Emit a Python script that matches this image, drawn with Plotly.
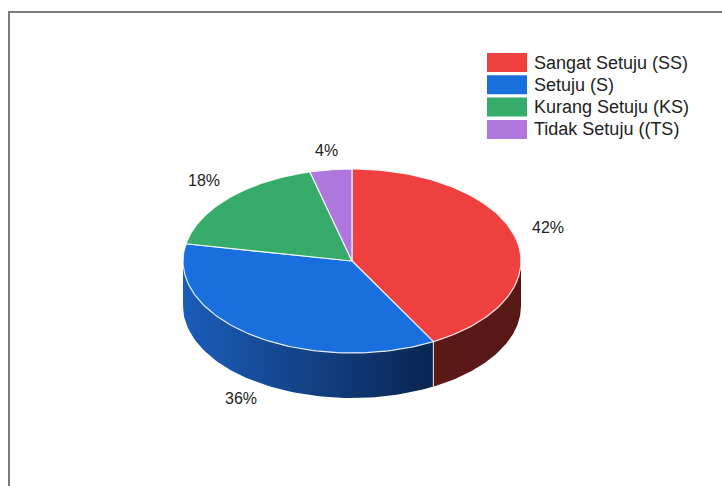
import numpy as np
import plotly.graph_objects as go

# Survey responses (percent)
categories = ["Sangat Setuju (SS)", "Setuju (S)", "Kurang Setuju (KS)", "Tidak Setuju ((TS)"]
values = [42, 36, 18, 4]
top_colors = ["#EF4040", "#1A6FDF", "#37AB69", "#AE77DD"]
side_colors = [("#5C1A17", "#571815"), ("#1B5DBA", "#0A2550"), ("#1F6B40", "#14482A"), ("#6E4A8E", "#4E3366")]

W, H = 722, 486
cx, cy = 352.0, 261.0      # centre of the top face
rx, ry = 169.0, 92.0       # ellipse radii of the top face
depth = 45.0               # thickness of the disc


def pt(theta_deg, dy=0.0):
    """Point on the top ellipse; angle measured clockwise from 12 o'clock."""
    t = np.radians(theta_deg)
    return cx + rx * np.sin(t), cy - ry * np.cos(t) + dy


fig = go.Figure()

total = float(sum(values))
bounds = np.concatenate([[0.0], np.cumsum(values) / total * 360.0])

# Front walls of the disc (only the part facing the viewer, 90..270 deg)
for i in range(len(values)):
    a, b = max(bounds[i], 90.0), min(bounds[i + 1], 270.0)
    if b <= a:
        continue
    th = np.linspace(a, b, 80)
    xt, yt = pt(th)
    xb, yb = pt(th[::-1], depth)
    xs = np.concatenate([xt, xb, xt[:1]])
    ys = np.concatenate([yt, yb, yt[:1]])
    fig.add_trace(go.Scatter(
        x=xs, y=ys, mode="lines", fill="toself",
        line=dict(width=0), hoverinfo="skip", showlegend=False,
        fillgradient=dict(type="horizontal",
                          colorscale=[[0, side_colors[i][0]], [1, side_colors[i][1]]]),
    ))

# Light seams where slices meet on the wall
for i in range(1, len(values)):
    ang = bounds[i]
    if 90.0 < ang < 270.0:
        x0, y0 = pt(ang)
        fig.add_trace(go.Scatter(
            x=[x0, x0], y=[y0, y0 + depth], mode="lines",
            line=dict(color="rgba(230,230,230,0.9)", width=1.2),
            hoverinfo="skip", showlegend=False,
        ))

# Top faces of the slices
for i in range(len(values)):
    th = np.linspace(bounds[i], bounds[i + 1], 120)
    xa, ya = pt(th)
    xs = np.concatenate([[cx], xa, [cx]])
    ys = np.concatenate([[cy], ya, [cy]])
    fig.add_trace(go.Scatter(
        x=xs, y=ys, mode="lines", fill="toself", fillcolor=top_colors[i],
        line=dict(color="rgba(255,255,255,0.85)", width=1.2),
        hoverinfo="skip", showlegend=False,
    ))

# Percentage labels outside each slice
for i, v in enumerate(values):
    mid = np.radians((bounds[i] + bounds[i + 1]) / 2.0)
    s, c = np.sin(mid), np.cos(mid)
    kx = 1.2 - 0.1 * max(0.0, -c)
    lx = cx + kx * rx * s
    ly = cy - 1.2 * ry * c - 6.7 * abs(s) + (1.15 * depth if c < 0 else 0.0)
    fig.add_annotation(
        x=lx, y=ly, text=f"{v}%", showarrow=False,
        xanchor="center", yanchor="middle",
        font=dict(family="Liberation Sans, Arial, sans-serif", size=16, color="#222222"),
    )

# Legend
shapes = []
for i, name in enumerate(categories):
    y0 = 53.0 + 22.3 * i
    shapes.append(dict(type="rect", xref="x", yref="y", x0=487, x1=527, y0=y0, y1=y0 + 19,
                       fillcolor=top_colors[i], line=dict(width=0), layer="above"))
    fig.add_annotation(
        x=532, y=y0 + 9.5, text=name, showarrow=False,
        xanchor="left", yanchor="middle",
        font=dict(family="Liberation Sans, Arial, sans-serif", size=18, color="#222222"),
    )

# Frame lines along the top and left edges
shapes.append(dict(type="line", xref="x", yref="y", x0=9, x1=W, y0=12, y1=12,
                   line=dict(color="#7A7A7A", width=2)))
shapes.append(dict(type="line", xref="x", yref="y", x0=9, x1=9, y0=11, y1=H,
                   line=dict(color="#7A7A7A", width=2)))

fig.update_layout(
    width=W, height=H,
    margin=dict(l=0, r=0, t=0, b=0),
    paper_bgcolor="white", plot_bgcolor="white",
    xaxis=dict(range=[0, W], visible=False, fixedrange=True),
    yaxis=dict(range=[H, 0], visible=False, fixedrange=True),
    shapes=shapes,
    showlegend=False,
)

fig.write_html("out.html")
